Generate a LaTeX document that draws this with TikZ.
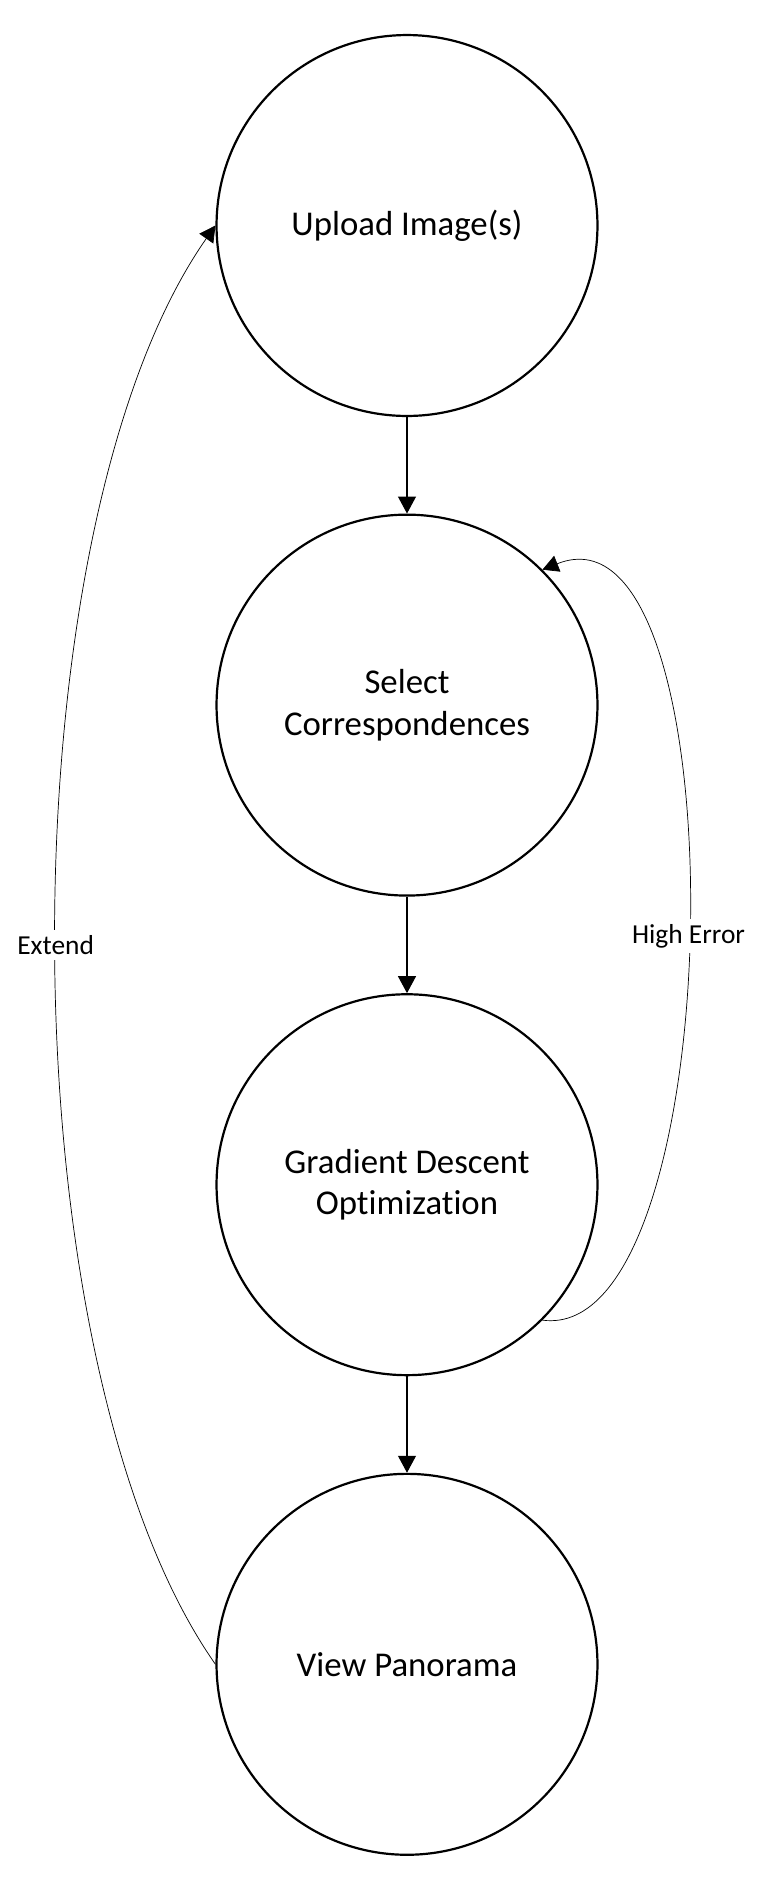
\documentclass[tikz,border=0pt]{standalone}
\usepackage{fontspec}
\setmainfont{Carlito}[Ligatures={NoCommon}]
\usetikzlibrary{positioning,arrows.meta}
\tikzset{
  stage/.style={draw, circle, line width=1.25pt, minimum size=7.62cm, inner sep=0pt,
    align=center, font=\fontsize{19.8}{23.8}\selectfont},
  flow/.style={-{Triangle[width=0.36cm,length=0.34cm]}, line width=0.6pt},
  backedge/.style={-{Triangle[width=0.34cm,length=0.32cm]}, line width=0.4pt},
  tag/.style={fill=white, inner sep=3pt, font=\fontsize{15.6}{18}\selectfont}
}
\begin{document}
\begin{tikzpicture}[x=0.02cm, y=-0.02cm]
        \useasboundingbox (0, 0) rectangle (768, 1891);
        \node[stage] (upload) at (407, 225.5) {Upload Image(s)};
        \node[stage, below=1.93cm of upload] (select) {Select\\Correspondences};
        \node[stage, below=1.93cm of select] (descent) {Gradient Descent\\Optimization};
        \node[stage, below=1.93cm of descent] (view) {View Panorama};

        \draw[flow] (upload) -- (select);
        \draw[flow] (select) -- (descent);
        \draw[flow] (descent) -- (view);

        \draw[backedge] (view.west) .. controls +(-213, -304) and +(-213, 304) .. (upload.west)
                node[tag, pos=.5] {Extend};
        \draw[backedge] (descent.south east) .. controls +(190, 25) and +(200, -80) .. (select.north east)
                node[tag, pos=.49] {High Error};
        \end{tikzpicture}
\end{document}
